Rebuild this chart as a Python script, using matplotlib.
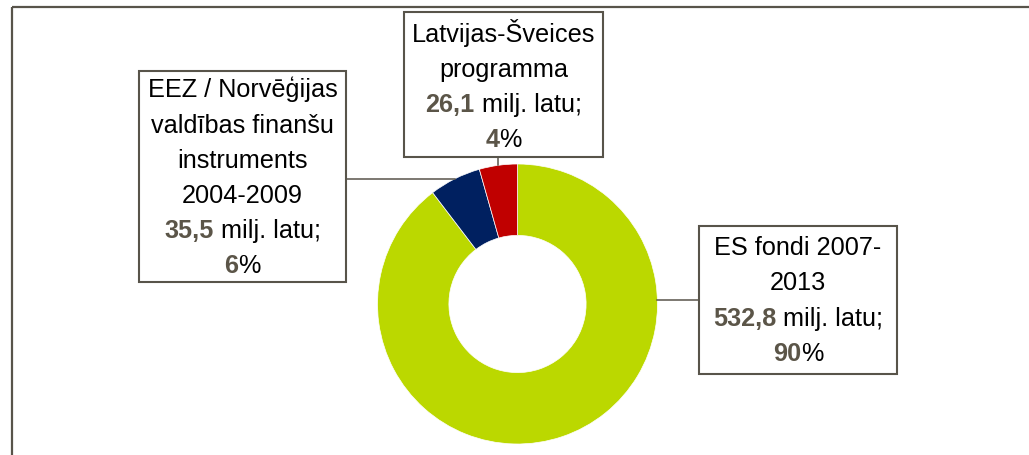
import matplotlib.pyplot as plt
import numpy as np
from matplotlib.offsetbox import TextArea, HPacker, VPacker, DrawingArea, AnnotationBbox

plt.rcParams['font.family'] = ['Liberation Sans', 'DejaVu Sans']

# dati
names = [['ES fondi 2007-', '2013'],
         ['EEZ / Norvēģijas', 'valdības finanšu', 'instruments', '2004-2009'],
         ['Latvijas-Šveices', 'programma']]
values = [532.8, 35.5, 26.1]
value_labels = ['532,8', '35,5', '26,1']
pct_labels = ['90', '6', '4']
colors = ['#BBD800', '#002060', '#C00000']

W, H = 1029, 456
fig = plt.figure(figsize=(W / 100, H / 100), dpi=100)
ax = fig.add_axes([0, 0, 1, 1])

cx, cy, r = 517.5, 151, 140
wedges, _ = ax.pie(values, colors=colors, startangle=90, counterclock=False,
                   center=(cx, cy), radius=r, frame=True,
                   wedgeprops=dict(width=r * 0.51, edgecolor='white', linewidth=0.5))
ax.set_xlim(0, W)
ax.set_ylim(0, H)
ax.set_aspect('equal')
ax.axis('off')

# ārējais rāmis
edge = '#58544a'
ax.plot([12, 12], [0, H - 8], color=edge, lw=1.6, solid_capstyle='butt')
ax.plot([12, W], [H - 8, H - 8], color=edge, lw=1.6, solid_capstyle='butt')

fs = 18.2
numcol = '#5b5548'


def make_box(name_lines, val, pct, side):
    rows = []
    for ln in name_lines:
        rows.append(TextArea(ln, textprops=dict(fontsize=fs, color='black')))
    rows.append(HPacker(children=[
        TextArea(val, textprops=dict(fontsize=fs, color=numcol, fontweight='bold')),
        TextArea(' milj. latu;', textprops=dict(fontsize=fs, color='black'))],
        sep=0, pad=0, align='baseline'))
    rows.append(HPacker(children=[
        TextArea(pct, textprops=dict(fontsize=fs, color=numcol, fontweight='bold')),
        TextArea('%', textprops=dict(fontsize=fs, color='black'))],
        sep=0, pad=0, align='baseline'))
    vp = VPacker(children=rows, sep=8.0, pad=0, align='center')
    return HPacker(children=[DrawingArea(side, 1), vp, DrawingArea(side, 1)],
                   sep=0, pad=0, align='center')


# lodziņu centri (pikseļos)
box_pos = [(798, H - 301), (242.5, H - 177.5), (503.5, H - 85.5)]
box_side = [3.6, 2.8, 1.4]
box_pad = [0.356, 0.2, 0.237]

for i, w in enumerate(wedges):
    ang = np.deg2rad((w.theta1 + w.theta2) / 2)
    px, py = cx + r * np.cos(ang), cy + r * np.sin(ang)
    bx, by = box_pos[i]
    if i == 0:
        ex = cx + np.sqrt(r ** 2 - (by - cy) ** 2)
        ax.plot([ex, bx], [by, by], color=edge, lw=1.1, zorder=1)
    elif i == 1:
        ax.plot([px, bx], [py, py], color=edge, lw=1.1, zorder=1)
    else:
        ax.plot([px, px], [py, by], color=edge, lw=1.1, zorder=1)
    ab = AnnotationBbox(make_box(names[i], value_labels[i], pct_labels[i], box_side[i]),
                        (bx, by), xycoords='data', box_alignment=(0.5, 0.5),
                        frameon=True, pad=box_pad[i], fontsize=fs,
                        bboxprops=dict(edgecolor=edge, linewidth=1.5, facecolor='white'),
                        zorder=5)
    ax.add_artist(ab)

fig.savefig('out.png', dpi=100)
